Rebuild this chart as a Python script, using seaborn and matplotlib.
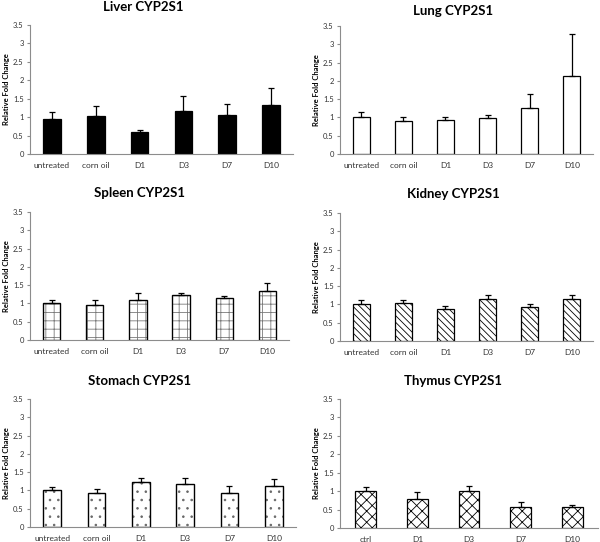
import numpy as np
import pandas as pd
import matplotlib
matplotlib.use("Agg")
import matplotlib.pyplot as plt
import seaborn as sns

# ---------------- data ----------------
cats6 = ["untreated", "corn oil", "D1", "D3", "D7", "D10"]
cats5 = ["ctrl", "D1", "D3", "D7", "D10"]

liver_vals = [0.95, 1.04, 0.60, 1.16, 1.06, 1.32]
liver_err = [0.20, 0.27, 0.06, 0.42, 0.29, 0.46]

lung_vals = [1.00, 0.90, 0.93, 0.98, 1.27, 2.14]
lung_err = [0.16, 0.10, 0.08, 0.08, 0.37, 1.14]

spleen_vals = [1.00, 0.95, 1.10, 1.22, 1.15, 1.34]
spleen_err = [0.10, 0.14, 0.18, 0.07, 0.04, 0.22]

kidney_vals = [1.00, 1.04, 0.87, 1.15, 0.94, 1.15]
kidney_err = [0.13, 0.09, 0.08, 0.10, 0.08, 0.10]

stomach_vals = [1.00, 0.94, 1.24, 1.17, 0.93, 1.12]
stomach_err = [0.10, 0.10, 0.11, 0.17, 0.20, 0.19]

thymus_vals = [1.01, 0.79, 1.00, 0.57, 0.57]
thymus_err = [0.10, 0.19, 0.14, 0.13, 0.05]

titles = ["Liver CYP2S1", "Lung CYP2S1", "Spleen CYP2S1",
          "Kidney CYP2S1", "Stomach CYP2S1", "Thymus CYP2S1"]
yticks = [0, 0.5, 1, 1.5, 2, 2.5, 3, 3.5]
ytick_labels = ["0", "0.5", "1", "1.5", "2", "2.5", "3", "3.5"]
ylabel = "Relative Fold Change"

# ---------------- style ----------------
sns.set_style("white")
plt.rcParams["font.family"] = ["Lato", "DejaVu Sans"]
plt.rcParams["hatch.linewidth"] = 0.6

W, H = 600, 542
fig = plt.figure(figsize=(W / 100, H / 100), dpi=100)

# panel geometry in pixels: left, right, top(3.5), bottom(0), title center x, title center y
panels = [
    (cats6, liver_vals, liver_err, "black", None, "black", (30, 293, 25, 154, 143, 7)),
    (cats6, lung_vals, lung_err, "white", None, "black", (340, 593, 26, 154, 453, 11)),
    (cats6, spleen_vals, spleen_err, "white", "++", "#7a7a7a", (30, 289, 212, 340, 140, 193)),
    (cats6, kidney_vals, kidney_err, "white", "\\" * 5, "black", (340, 593, 213, 341, 453, 194)),
    (cats6, stomach_vals, stomach_err, "white", "..", "#666666", (30, 296, 399, 527, 140, 381)),
    (cats5, thymus_vals, thymus_err, "white", "xxx", "black", (340, 598, 399, 528, 453, 381)),
]

spine_col = "#8c8c8c"
text_col = "#333333"

for (cats, vals, errs, fc, hatch, hcol, geom), title in zip(panels, titles):
    l, r, t, b, tx, ty = geom
    ax = fig.add_axes([l / W, 1 - b / H, (r - l) / W, (b - t) / H])
    df = pd.DataFrame({"cat": cats, "val": vals})
    kw = {}
    if hatch:
        kw["hatch"] = hatch
    # fill + hatch (hatch follows edge colour)
    sns.barplot(data=df, x="cat", y="val", ax=ax, color=fc, saturation=1,
                edgecolor=hcol, linewidth=0.9, width=0.4, **kw)
    for p in ax.patches:
        p.set_facecolor(fc)
    if hcol != "black":
        # black outline on top
        sns.barplot(data=df, x="cat", y="val", ax=ax, fill=False, color="black",
                    linewidth=0.9, width=0.4)
    n = len(cats)
    x = np.arange(n)
    ax.errorbar(x, vals, yerr=[np.zeros(n), errs], fmt="none", ecolor="black",
                elinewidth=0.9, capsize=2.2, capthick=0.9, zorder=5)
    ax.set_ylim(0, 3.5)
    ax.set_xlim(-0.5, n - 0.5)
    ax.set_yticks(yticks)
    ax.set_yticklabels(ytick_labels)
    ax.set_xticks(x)
    ax.set_xticklabels(cats)
    ax.set_xticks(np.arange(n + 1) - 0.5, minor=True)
    ax.tick_params(axis="x", which="major", length=0, labelsize=6, colors=text_col, pad=6)
    ax.tick_params(axis="x", which="minor", length=3, color=spine_col, width=0.8, direction="out")
    ax.tick_params(axis="y", length=2.5, width=0.8, color=spine_col, labelsize=5.5,
                   labelcolor=text_col, pad=2, direction="out", left=True)
    ax.set_xlabel("")
    ax.set_ylabel(ylabel, fontsize=5.5, fontweight="bold", color="black")
    ax.yaxis.set_label_coords(-20 / (r - l), 0.5)
    for s in ["top", "right"]:
        ax.spines[s].set_visible(False)
    for s in ["left", "bottom"]:
        ax.spines[s].set_color(spine_col)
        ax.spines[s].set_linewidth(0.8)
    fig.text(tx / W, 1 - ty / H, title, ha="center", va="center",
             fontsize=9.5, fontweight="bold", color="black")

fig.savefig("out.png", dpi=100)
